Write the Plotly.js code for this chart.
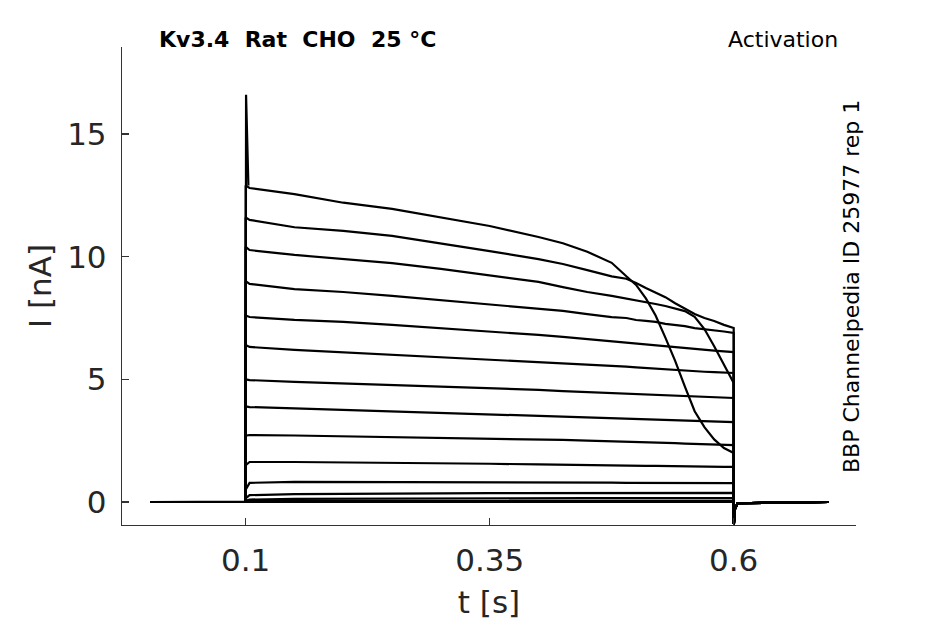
<!DOCTYPE html>
<html>
<head>
<meta charset="utf-8">
<script src="https://cdn.plot.ly/plotly-3.0.1.min.js"></script>
<style>html,body{margin:0;padding:0;background:#fff;}#chart{width:945px;height:624px;}</style>
</head>
<body>
<div id="chart"></div>
<script>
// ---- data ----
const preT = [0.002, 0.0999];
const preI = [0, 0];
const tPulse = [0.1, 0.104, 0.15, 0.2, 0.25, 0.3, 0.35, 0.4, 0.425, 0.45, 0.475, 0.49, 0.5, 0.51, 0.52, 0.53, 0.54, 0.55, 0.56, 0.57, 0.58, 0.59, 0.6];
const tailT = [0.6002, 0.6012, 0.604, 0.697];
const tailI = [-0.9, -0.3, -0.05, 0];
const spikeT = [0.0999, 0.1004, 0.1028];
const spikeI = [0, 16.6, 12.9];

const sweep1  = [12.9, 12.8, 12.55, 12.2, 11.95, 11.6, 11.25, 10.8, 10.55, 10.2, 9.75, 9.2, 8.85, 8.3, 7.6, 6.7, 5.75, 4.7, 3.7, 3.05, 2.55, 2.2, 2.0];
const sweep2  = [11.6, 11.5, 11.2, 11.05, 10.85, 10.55, 10.23, 9.9, 9.7, 9.45, 9.2, 9.1, 8.93, 8.72, 8.55, 8.35, 8.1, 7.87, 7.66, 7.5, 7.38, 7.22, 7.09];
const sweep3  = [10.4, 10.27, 10.07, 9.9, 9.74, 9.5, 9.25, 8.97, 8.76, 8.56, 8.4, 8.3, 8.23, 8.15, 8.07, 7.99, 7.9, 7.78, 7.55, 7.05, 6.35, 5.6, 4.85];
const sweep4  = [9.0, 8.89, 8.68, 8.56, 8.4, 8.23, 8.07, 7.87, 7.79, 7.66, 7.54, 7.5, 7.42, 7.38, 7.34, 7.26, 7.22, 7.17, 7.09, 7.05, 7.0, 6.95, 6.89];
const sweep5  = [7.6, 7.54, 7.42, 7.34, 7.22, 7.09, 6.97, 6.81, 6.73, 6.64, 6.52, 6.48, 6.44, 6.4, 6.37, 6.33, 6.3, 6.27, 6.24, 6.2, 6.17, 6.14, 6.11];
const sweep6  = [6.4, 6.32, 6.2, 6.1, 6.0, 5.92, 5.83, 5.73, 5.67, 5.6, 5.55, 5.52, 5.49, 5.46, 5.43, 5.4, 5.38, 5.35, 5.33, 5.31, 5.29, 5.27, 5.26];
const sweep7  = [5.0, 4.97, 4.9, 4.84, 4.78, 4.72, 4.65, 4.57, 4.52, 4.48, 4.45, 4.43, 4.41, 4.39, 4.37, 4.35, 4.34, 4.32, 4.3, 4.29, 4.27, 4.26, 4.24];
const sweep8  = [3.9, 3.87, 3.82, 3.76, 3.7, 3.64, 3.58, 3.51, 3.47, 3.44, 3.42, 3.4, 3.39, 3.38, 3.36, 3.35, 3.34, 3.32, 3.31, 3.3, 3.29, 3.27, 3.26];
const sweep9  = [2.7, 2.73, 2.71, 2.68, 2.65, 2.62, 2.59, 2.55, 2.53, 2.5, 2.48, 2.46, 2.45, 2.44, 2.42, 2.41, 2.4, 2.38, 2.37, 2.36, 2.35, 2.33, 2.32];
const sweep10 = [1.5, 1.63, 1.63, 1.62, 1.6, 1.58, 1.56, 1.53, 1.51, 1.5, 1.49, 1.48, 1.48, 1.47, 1.47, 1.46, 1.46, 1.45, 1.45, 1.44, 1.44, 1.43, 1.43];
const sweep11 = [0.5, 0.78, 0.82, 0.82, 0.81, 0.81, 0.8, 0.8, 0.79, 0.79, 0.79, 0.78, 0.78, 0.78, 0.78, 0.78, 0.77, 0.77, 0.77, 0.77, 0.77, 0.77, 0.77];
const sweep12 = [0.15, 0.28, 0.32, 0.34, 0.35, 0.35, 0.36, 0.36, 0.36, 0.36, 0.36, 0.36, 0.37, 0.37, 0.37, 0.37, 0.37, 0.37, 0.37, 0.37, 0.37, 0.37, 0.37];
const sweep13 = [0.05, 0.1, 0.13, 0.14, 0.15, 0.15, 0.15, 0.15, 0.16, 0.16, 0.16, 0.16, 0.16, 0.16, 0.16, 0.16, 0.16, 0.16, 0.16, 0.16, 0.16, 0.16, 0.16];
const sweep14 = [0.02, 0.04, 0.05, 0.05, 0.05, 0.05, 0.05, 0.05, 0.05, 0.05, 0.05, 0.05, 0.05, 0.05, 0.05, 0.05, 0.05, 0.05, 0.05, 0.05, 0.05, 0.05, 0.05];
const sweep15 = [0, 0, 0, 0, 0, 0, 0, 0, 0, 0, 0, 0, 0, 0, 0, 0, 0, 0, 0, 0, 0, 0, 0];

const xTickVals = [0.1, 0.35, 0.6];
const xTickText = ['0.1', '0.35', '0.6'];
const yTickVals = [0, 5, 10, 15];
const yTickText = ['0', '5', '10', '15'];

const titleText = 'Kv3.4  Rat  CHO  25 °C';
const protocolText = 'Activation';
const sourceText = 'BBP Channelpedia ID 25977 rep 1';

// ---- build traces ----
const sweeps = [sweep1, sweep2, sweep3, sweep4, sweep5, sweep6, sweep7, sweep8,
                sweep9, sweep10, sweep11, sweep12, sweep13, sweep14, sweep15];
const lineStyle = {color: '#000000', width: 2.2};
const traces = sweeps.map(s => ({
  type: 'scatter', mode: 'lines',
  x: preT.concat(tPulse, tailT),
  y: preI.concat(s, tailI),
  line: lineStyle, hoverinfo: 'skip'
}));
traces.push({type: 'scatter', mode: 'lines', x: spikeT, y: spikeI, line: lineStyle, hoverinfo: 'skip'});

// plot area in px: left 122, right 856, top 47, bottom 525
const L = 122, R = 856, T = 47, B = 525, W = 945, H = 624;
const px = x => (x - L) / (R - L);
const py = y => (B - y) / (B - T);

const axisCommon = {
  showline: true, linecolor: '#333333', linewidth: 1.2,
  ticks: 'inside', ticklen: 7, tickwidth: 1.2, tickcolor: '#333333',
  showgrid: false, zeroline: false,
  tickfont: {family: 'DejaVu Sans', size: 31, color: '#262626'},
  automargin: false, mirror: false
};

const layout = {
  width: W, height: H,
  margin: {l: L, r: W - R, t: T, b: H - B, pad: 0},
  paper_bgcolor: '#ffffff', plot_bgcolor: '#ffffff',
  showlegend: false,
  font: {family: 'DejaVu Sans', color: '#262626'},
  xaxis: Object.assign({}, axisCommon, {
    range: [-0.0267, 0.7253],
    tickmode: 'array', tickvals: xTickVals, ticktext: xTickText,
    ticklabelstandoff: 8,
    title: {text: 't [s]', font: {family: 'DejaVu Sans', size: 31, color: '#262626'}, standoff: 13}
  }),
  yaxis: Object.assign({}, axisCommon, {
    range: [-0.9375, 18.547],
    tickmode: 'array', tickvals: yTickVals, ticktext: yTickText,
    ticklabelstandoff: 8,
    title: {text: 'I [nA]', font: {family: 'DejaVu Sans', size: 31, color: '#262626'}, standoff: 6}
  }),
  annotations: [
    {text: '<b>' + titleText + '</b>', xref: 'paper', yref: 'paper', x: px(157), y: py(40),
     xanchor: 'left', yanchor: 'middle', showarrow: false,
     font: {family: 'DejaVu Sans', size: 22, color: '#000000'}},
    {text: protocolText, xref: 'paper', yref: 'paper', x: px(840), y: py(39.5),
     xanchor: 'right', yanchor: 'middle', showarrow: false,
     font: {family: 'DejaVu Sans', size: 22, color: '#000000'}},
    {text: sourceText, xref: 'paper', yref: 'paper', x: px(851), y: py(287),
     xanchor: 'center', yanchor: 'middle', showarrow: false, textangle: -90,
     font: {family: 'DejaVu Sans', size: 22, color: '#000000'}}
  ]
};

Plotly.newPlot('chart', traces, layout, {staticPlot: true, displayModeBar: false});
</script>
</body>
</html>
